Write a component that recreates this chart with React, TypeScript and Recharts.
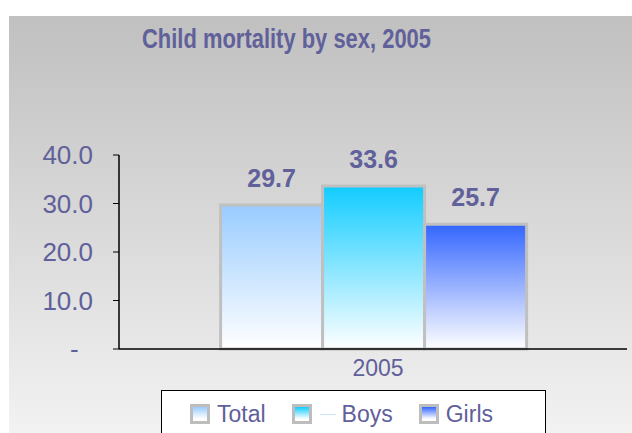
import React from 'react';
import { BarChart, Bar, XAxis, YAxis, LabelList } from 'recharts';

const categories = ['2005'];
const seriesNames = ['Total', 'Boys', 'Girls'];
const totalValues = [29.7];
const boysValues = [33.6];
const girlsValues = [25.7];
const yTicks = [0, 10, 20, 30, 40];
const seriesColors = ['#99ccff', '#11ccff', '#3366ff'];
const titleText = 'Child mortality by sex, 2005';

const data = categories.map((c, i) => ({
  year: c,
  Total: totalValues[i],
  Boys: boysValues[i],
  Girls: girlsValues[i],
}));

const TEXT = '#60609a';
const FONT = '"Liberation Sans", Arial, sans-serif';

const fmtY = (v: number) => (v === 0 ? '-\u00A0\u00A0' : v.toFixed(1));
const fmtLabel = (v: any) => Number(v).toFixed(1);

function LegendIcon({ color }: { color: string }) {
  return (
    <div
      style={{
        width: 14,
        height: 14,
        border: '3px solid #bdbdbd',
        background: `linear-gradient(to bottom, ${color} 0%, #ffffff 85%)`,
        flex: '0 0 auto',
      }}
    />
  );
}

export default function App() {
  return (
    <div
      style={{
        position: 'absolute',
        left: 0,
        top: 0,
        width: 632,
        height: 433,
        overflow: 'hidden',
        fontFamily: FONT,
        background: '#ffffff',
      }}
    >
      <div
        style={{
          position: 'absolute',
          left: 9,
          top: 16,
          width: 623,
          height: 417,
          background: 'linear-gradient(to bottom, #c0c0c0 0%, #f2f2f2 100%)',
        }}
      />
      <BarChart
        width={632}
        height={433}
        data={data}
        margin={{ top: 155, right: 5, bottom: 54, left: 0 }}
        barCategoryGap="20%"
        barGap={0}
        style={{ position: 'absolute', left: 0, top: 0, fontFamily: FONT }}
      >
        <defs>
          {seriesNames.map((n, i) => (
            <linearGradient key={n} id={`grad${n}`} x1="0" y1="0" x2="0" y2="1">
              <stop offset="0%" stopColor={seriesColors[i]} />
              <stop offset="100%" stopColor="#ffffff" />
            </linearGradient>
          ))}
        </defs>
        <XAxis
          dataKey="year"
          height={30}
          axisLine={{ stroke: '#000000', strokeWidth: 1.5 }}
          tickLine={false}
          tickMargin={5}
          tick={{ fill: TEXT, fontSize: 23, dx: 5 }}
        />
        <YAxis
          domain={[0, 40]}
          ticks={yTicks}
          width={119}
          tickSize={6}
          tickMargin={20}
          tickFormatter={fmtY}
          axisLine={{ stroke: '#000000', strokeWidth: 1.5 }}
          tickLine={{ stroke: '#000000' }}
          tick={{ fill: TEXT, fontSize: 26 }}
        />
        {seriesNames.map((n) => (
          <Bar
            key={n}
            dataKey={n}
            fill={`url(#grad${n})`}
            stroke="#c0c0c0"
            strokeWidth={3}
            isAnimationActive={false}
          >
            <LabelList
              dataKey={n}
              position="top"
              offset={18}
              formatter={fmtLabel}
              style={{ fill: TEXT, fontSize: 25, fontWeight: 'bold', fontFamily: FONT }}
            />
          </Bar>
        ))}
      </BarChart>
      <svg
        width={632}
        height={433}
        style={{ position: 'absolute', left: 0, top: 0, pointerEvents: 'none' }}
      >
        <text
          x={286.5}
          y={48}
          textAnchor="middle"
          fontWeight="bold"
          fontSize={28}
          fill={TEXT}
          fontFamily={FONT}
          textLength={289}
          lengthAdjust="spacingAndGlyphs"
        >
          {titleText}
        </text>
      </svg>
      <div
        style={{
          position: 'absolute',
          left: 161,
          top: 390,
          width: 385,
          height: 60,
          border: '1px solid #000000',
          background: '#ffffff',
          boxSizing: 'border-box',
          display: 'flex',
          alignItems: 'flex-start',
          paddingLeft: 28,
          paddingTop: 13,
        }}
      >
        {seriesNames.map((n, i) => (
          <div
            key={n}
            style={{
              display: 'flex',
              alignItems: 'center',
              marginRight: i === seriesNames.length - 1 ? 0 : 26,
              height: 20,
            }}
          >
            <LegendIcon color={seriesColors[i]} />
            {n === 'Boys' ? (
              <div
                style={{
                  width: 16,
                  height: 1,
                  background: '#cfe8ff',
                  marginLeft: 8,
                }}
              />
            ) : null}
            <span
              style={{
                marginLeft: n === 'Boys' ? 6 : 7,
                fontSize: 23,
                color: TEXT,
                lineHeight: '20px',
                whiteSpace: 'nowrap',
              }}
            >
              {n}
            </span>
          </div>
        ))}
      </div>
    </div>
  );
}
